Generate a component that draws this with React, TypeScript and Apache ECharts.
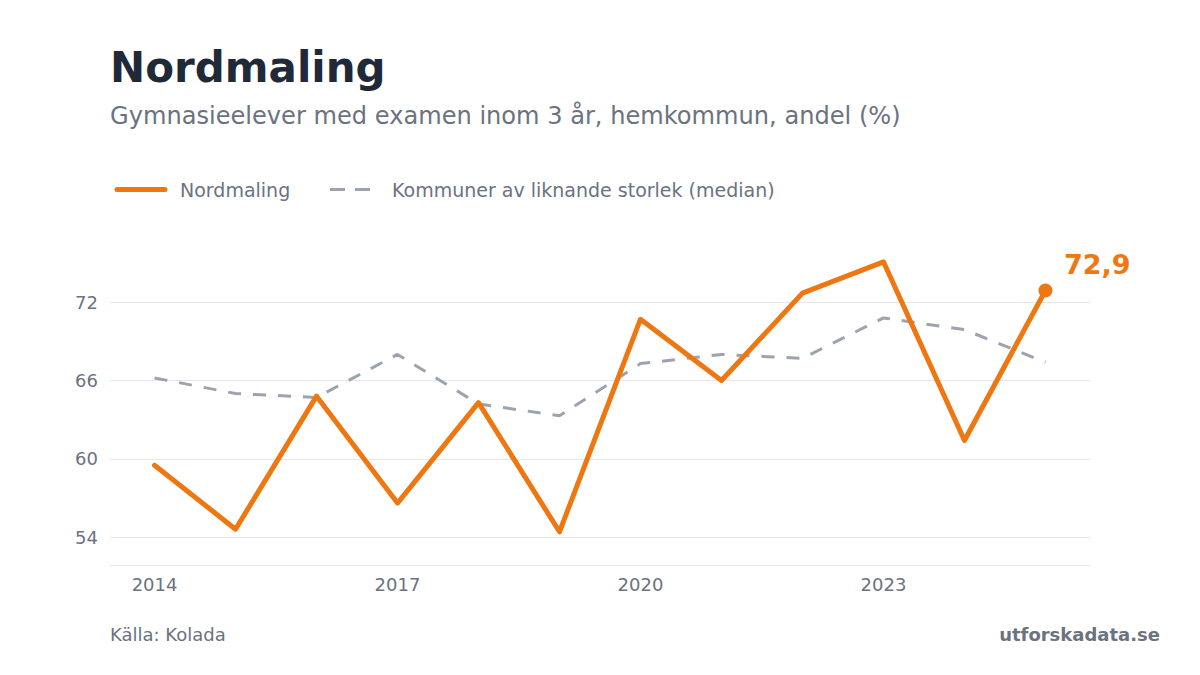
import React, { useEffect, useRef } from "react";
import * as echarts from "echarts";

const years = [2014, 2015, 2016, 2017, 2018, 2019, 2020, 2021, 2022, 2023, 2024, 2025];
const nordmaling = [59.5, 54.6, 64.8, 56.6, 64.3, 54.4, 70.7, 66.0, 72.7, 75.1, 61.4, 72.9];
const median = [66.2, 65.0, 64.7, 68.0, 64.2, 63.3, 67.3, 68.0, 67.7, 70.8, 69.9, 67.4];
const yTicks = [54, 60, 66, 72];
const xTicks = [2014, 2017, 2020, 2023];

const titleText = "Nordmaling";
const subtitleText = "Gymnasieelever med examen inom 3 år, hemkommun, andel (%)";
const legendMain = "Nordmaling";
const legendMedian = "Kommuner av liknande storlek (median)";
const sourceText = "Källa: Kolada";
const brandText = "utforskadata.se";

const FONT = "DejaVu Sans";
const ORANGE = "#ee7712";
const GRAY_LINE = "#9ca3af";
const TEXT_GRAY = "#6b7280";
const GRID_COLOR = "#e5e7eb";

export default function App() {
  const ref = useRef<HTMLDivElement>(null);

  useEffect(() => {
    if (!ref.current) return;
    const chart = echarts.init(ref.current, null, { renderer: "svg" });
    const lastIdx = years.length - 1;
    const option: any = {
      animation: false,
      backgroundColor: "#ffffff",
      textStyle: { fontFamily: FONT },
      grid: { left: 110, right: 110, top: 250.1, bottom: 109.3, containLabel: false },
      xAxis: {
        type: "value",
        min: 2013.45,
        max: 2025.55,
        axisLine: { show: true, onZero: false, lineStyle: { color: GRID_COLOR, width: 1 } },
        axisTick: { show: false, customValues: xTicks },
        splitLine: { show: false },
        axisLabel: {
          customValues: xTicks,
          formatter: (v: number) => String(v),
          color: TEXT_GRAY,
          fontSize: 18,
          fontFamily: FONT,
          margin: 10,
        },
      },
      yAxis: {
        type: "value",
        min: 51.8,
        max: 76,
        axisLine: { show: false },
        axisTick: { show: false, customValues: yTicks },
        splitLine: { show: true, lineStyle: { color: GRID_COLOR, width: 1 } },
        axisLabel: {
          customValues: yTicks,
          color: TEXT_GRAY,
          fontSize: 18,
          fontFamily: FONT,
          margin: 12,
        },
      },
      series: [
        {
          name: legendMedian,
          type: "line",
          data: years.map((y, i) => [y, median[i]]),
          showSymbol: false,
          symbol: "none",
          lineStyle: { color: GRAY_LINE, width: 3, type: [13, 12] },
          z: 2,
        },
        {
          name: legendMain,
          type: "line",
          data: years.map((y, i) => [y, nordmaling[i]]),
          showSymbol: false,
          symbol: "none",
          lineStyle: { color: ORANGE, width: 5, cap: "round", join: "round" },
          z: 3,
        },
        {
          type: "scatter",
          data: [[years[lastIdx], nordmaling[lastIdx]]],
          symbol: "circle",
          symbolSize: 14,
          itemStyle: { color: ORANGE, opacity: 1 },
          z: 4,
          label: {
            show: true,
            position: [25.5, -32.5],
            formatter: (p: any) => String(p.value[1]).replace(".", ","),
            color: ORANGE,
            opacity: 1,
            fontSize: 27,
            fontWeight: "bold",
            fontFamily: FONT,
          },
        },
      ],
      graphic: [
        {
          type: "text",
          left: 110,
          top: 46,
          style: { text: titleText, fill: "#1f2937", font: `bold 42px "${FONT}"` },
        },
        {
          type: "text",
          left: 110,
          top: 104,
          style: { text: subtitleText, fill: TEXT_GRAY, font: `24.1px "${FONT}"` },
        },
        {
          type: "line",
          shape: { x1: 117, y1: 189.5, x2: 165, y2: 189.5 },
          style: { stroke: ORANGE, lineWidth: 5, lineCap: "round" },
        },
        {
          type: "text",
          x: 180,
          y: 190,
          style: { text: legendMain, fill: TEXT_GRAY, font: `19px "${FONT}"`, verticalAlign: "middle" },
        },
        {
          type: "line",
          shape: { x1: 330, y1: 189.5, x2: 370, y2: 189.5 },
          style: { stroke: GRAY_LINE, lineWidth: 3, lineDash: [15, 10] },
        },
        {
          type: "text",
          x: 392,
          y: 190,
          style: { text: legendMedian, fill: TEXT_GRAY, font: `19px "${FONT}"`, verticalAlign: "middle" },
        },
        {
          type: "text",
          x: 110,
          y: 634,
          style: { text: sourceText, fill: TEXT_GRAY, font: `18px "${FONT}"`, verticalAlign: "middle" },
        },
        {
          type: "text",
          x: 1160,
          y: 634,
          style: {
            text: brandText,
            fill: TEXT_GRAY,
            font: `bold 18px "${FONT}"`,
            align: "right",
            verticalAlign: "middle",
          },
        },
      ],
    };
    chart.setOption(option);
    return () => chart.dispose();
  }, []);

  return (
    <div
      ref={ref}
      style={{ position: "absolute", left: 0, top: 0, width: 1200, height: 675, background: "#fff" }}
    />
  );
}
